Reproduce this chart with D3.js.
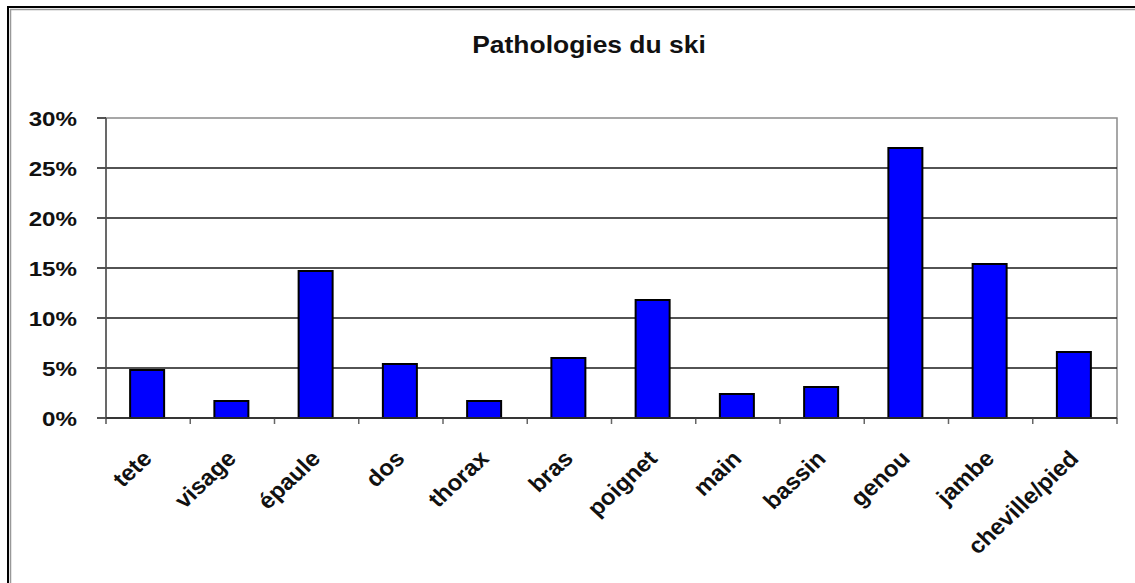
<!DOCTYPE html>
<html>
<head>
<meta charset="utf-8">
<script src="https://cdn.jsdelivr.net/npm/d3@7"></script>
<style>
  body { margin: 0; background: #fff; }
  text { font-family: "Liberation Sans", Arial, sans-serif; font-weight: bold; fill: #111; }
</style>
</head>
<body>
<div id="chart"></div>
<script>
// values (percent)
var categories = ["tete", "visage", "épaule", "dos", "thorax", "bras",
                  "poignet", "main", "bassin", "genou", "jambe", "cheville/pied"];
var values = [4.8, 1.7, 14.7, 5.4, 1.7, 6.0, 11.8, 2.4, 3.1, 27.0, 15.4, 6.6];
var yTicks = [0, 5, 10, 15, 20, 25, 30];
var title = "Pathologies du ski";

var width = 1135, height = 583;
var plotLeft = 106, plotRight = 1117, plotTop = 118, plotBottom = 418;
var stretch = 1.15; // the picture is a bit wider than tall
var labelStretch = 1.07;

var svg = d3.select("#chart").append("svg")
    .attr("width", width)
    .attr("height", height);

// outer frame (only top and left are visible)
svg.append("line").attr("x1", 8).attr("y1", 6).attr("x2", 8).attr("y2", height)
    .style("stroke", "#000").style("stroke-width", 2);
svg.append("line").attr("x1", 10.5).attr("y1", 9).attr("x2", 10.5).attr("y2", height)
    .style("stroke", "#999").style("stroke-width", 1.5);
svg.append("line").attr("x1", 7).attr("y1", 7).attr("x2", width).attr("y2", 7)
    .style("stroke", "#000").style("stroke-width", 2);
svg.append("line").attr("x1", 10).attr("y1", 9.5).attr("x2", width).attr("y2", 9.5)
    .style("stroke", "#999").style("stroke-width", 1.5);

var x = d3.scaleBand().domain(categories).range([plotLeft, plotRight]);
var y = d3.scaleLinear().domain([0, 30]).range([plotBottom, plotTop]);

// plot area border
svg.append("rect")
    .attr("x", plotLeft).attr("y", plotTop)
    .attr("width", plotRight - plotLeft).attr("height", plotBottom - plotTop)
    .style("fill", "none").style("stroke", "#8a8a8a").style("stroke-width", 1.5);

// gridlines + left ticks
svg.selectAll(".grid")
    .data(yTicks)
    .enter()
    .append("line")
    .attr("class", "grid")
    .attr("x1", plotLeft - 9)
    .attr("x2", function(d) { return (d === 30) ? plotLeft : plotRight; })
    .attr("y1", function(d) { return y(d); })
    .attr("y2", function(d) { return y(d); })
    .style("stroke", "#1a1a1a").style("stroke-width", 1.5);

// y axis line
svg.append("line").attr("x1", plotLeft).attr("x2", plotLeft)
    .attr("y1", plotTop).attr("y2", plotBottom + 6)
    .style("stroke", "#555").style("stroke-width", 1.5);

// bottom ticks at band edges
var edges = categories.map(function(c) { return x(c); }).concat([plotRight]);
svg.selectAll(".xtick")
    .data(edges.slice(1))
    .enter()
    .append("line")
    .attr("class", "xtick")
    .attr("x1", function(d) { return d; })
    .attr("x2", function(d) { return d; })
    .attr("y1", plotBottom)
    .attr("y2", plotBottom + 6)
    .style("stroke", "#666").style("stroke-width", 1.5);

// y labels
svg.selectAll(".ylab")
    .data(yTicks)
    .enter()
    .append("text")
    .attr("class", "ylab")
    .attr("transform", function(d) { return "translate(77," + y(d) + ") scale(" + stretch + ",1)"; })
    .attr("dy", "0.36em")
    .attr("text-anchor", "end")
    .style("font-size", "21px")
    .text(function(d) { return d + "%"; });

// bars
var barW = 34;
svg.selectAll(".bar")
    .data(values)
    .enter()
    .append("rect")
    .attr("class", "bar")
    .attr("x", function(d, i) { return x(categories[i]) + x.bandwidth() / 2 - barW / 2 - 1; })
    .attr("y", function(d) { return y(d); })
    .attr("width", barW)
    .attr("height", function(d) { return plotBottom - y(d); })
    .style("fill", "#0000ff")
    .style("stroke", "#000")
    .style("stroke-width", 2);

// bottom axis line on top of bars
svg.append("line").attr("x1", plotLeft).attr("x2", plotRight)
    .attr("y1", plotBottom).attr("y2", plotBottom)
    .style("stroke", "#333").style("stroke-width", 1.5);

// category labels, rotated
svg.selectAll(".xlab")
    .data(categories)
    .enter()
    .append("text")
    .attr("class", "xlab")
    .attr("transform", function(d) {
        return "translate(" + (x(d) + x.bandwidth() / 2 + 5) + "," + (plotBottom + 42) +
            ") scale(" + labelStretch + ",1) rotate(-45)";
    })
    .attr("text-anchor", "end")
    .style("font-size", "22.5px")
    .text(function(d) { return d; });

// title
svg.append("text")
    .attr("transform", "translate(589,53) scale(" + stretch + ",1)")
    .attr("text-anchor", "middle")
    .style("font-size", "23px")
    .text(title);
</script>
</body>
</html>
